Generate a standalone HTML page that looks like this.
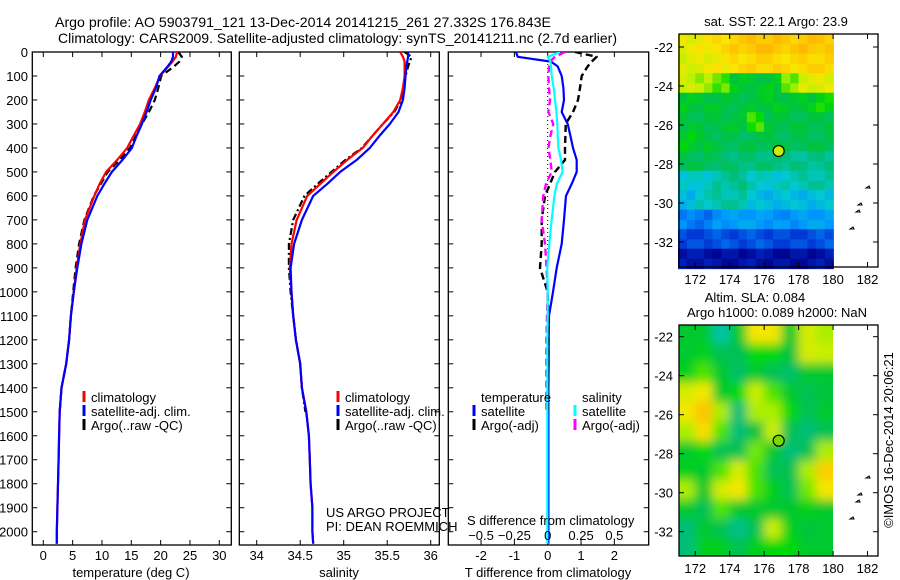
<!DOCTYPE html>
<html><head><meta charset="utf-8"><style>
html,body{margin:0;padding:0;background:#fff;}
svg{display:block;font-family:"Liberation Sans",sans-serif;}
text{fill:#000;}
</style></head><body>
<svg id="chart" width="900" height="580" viewBox="0 0 900 580" xmlns="http://www.w3.org/2000/svg">
<defs>
<clipPath id="c1"><rect x="32.3" y="52" width="199" height="493"/></clipPath>
<clipPath id="c2"><rect x="239.3" y="52" width="200" height="493"/></clipPath>
<clipPath id="c3"><rect x="448.3" y="52" width="200.4" height="493"/></clipPath>
<clipPath id="cm2"><rect x="679" y="325" width="154" height="231"/></clipPath>
<filter id="blur" x="-5%" y="-5%" width="110%" height="110%"><feGaussianBlur stdDeviation="5"/></filter>
</defs>
<text x="55" y="27" font-size="14" textLength="496" lengthAdjust="spacingAndGlyphs">Argo profile: AO 5903791_121 13-Dec-2014 20141215_261 27.332S 176.843E</text>
<text x="58" y="43" font-size="14" textLength="559" lengthAdjust="spacingAndGlyphs">Climatology: CARS2009. Satellite-adjusted climatology: synTS_20141211.nc (2.7d earlier)</text>
<g id="root"></g>
</svg>
<script>
// ---- data ----
const depths = [0,20,40,60,100,150,200,250,300,350,400,450,500,550,600,700,800,900,1000,1100,1200,1300,1400,1500,1600,1700,1800,1900,2000,2050];
const depthTicks = [0,100,200,300,400,500,600,700,800,900,1000,1100,1200,1300,1400,1500,1600,1700,1800,1900,2000];
const tempClim = [22.8,22.6,22.0,21.3,19.9,19.0,18.0,17.3,16.5,15.4,14.3,12.6,10.7,9.6,8.7,7.1,6.3,5.7,5.2,4.7,4.4,3.9,3.1,2.8,2.7,2.6,2.5,2.4,2.3,2.3];
const tempSat = [22.1,22.1,21.8,21.2,19.8,19.2,18.3,17.6,16.8,15.9,15.1,13.5,11.7,10.4,9.2,7.5,6.5,5.8,5.2,4.7,4.4,3.9,3.1,2.8,2.7,2.6,2.5,2.4,2.3,2.3];
const tempArgo = [23.0,23.6,23.2,22.3,20.1,19.6,19.0,18.0,16.8,15.8,14.8,13.0,11.0,9.8,8.6,7.0,6.1,5.5,5.1,4.7,4.4,3.9,3.1,2.8];
const salClim = [35.65,35.68,35.70,35.70,35.70,35.68,35.65,35.57,35.45,35.33,35.22,35.04,34.88,34.73,34.58,34.46,34.40,34.38,34.40,34.42,34.45,34.50,34.52,34.57,34.60,34.61,34.62,34.64,34.64,34.65];
const salSat = [35.74,35.74,35.73,35.72,35.71,35.70,35.68,35.63,35.53,35.41,35.30,35.15,34.96,34.81,34.65,34.52,34.43,34.39,34.40,34.42,34.45,34.50,34.52,34.57,34.60,34.61,34.62,34.64,34.64,34.65];
const salArgo = [35.70,35.78,35.76,35.74,35.71,35.69,35.66,35.58,35.45,35.33,35.21,35.02,34.86,34.70,34.55,34.42,34.37,34.37,34.39,34.42,34.45,34.50,34.52,34.56];
const dTsat = [-0.95,-0.9,0.1,0.3,0.42,0.47,0.49,0.42,0.6,0.68,0.76,0.87,0.87,0.72,0.55,0.49,0.42,0.27,0.16,0.04,0.03,0.03,0.02,0.02,0.02,0.02,0.02,0.02,0.02,0.02];
const dTargo = [0.82,1.47,1.32,1.2,1.02,0.97,0.91,0.76,0.54,0.53,0.52,0.52,0.22,0.07,-0.08,-0.18,-0.18,-0.23,0.0,0.02,0.01,0.0,0.0,0.0];
const dSsat = [0.092,0.0,0.02,0.025,0.03,0.045,0.055,0.065,0.072,0.076,0.08,0.1,0.112,0.068,0.05,0.03,0.012,-0.003,0,0,-0.003,-0.003,-0.003,-0.003,-0.003,-0.003,-0.003,-0.003,-0.003,-0.003];
const dSargo = [0.13,0.055,0.017,0.01,0.005,0.01,0.017,0.005,0.042,0.02,0.005,0.02,0.03,-0.013,-0.033,-0.045,-0.02,-0.008,0,-0.005,-0.01,-0.01,-0.01,-0.01];
const tempTicks = [0,5,10,15,20,25,30];
const salTicks = [34,34.5,35,35.5,36];
const salTickLabels = ["34","34.5","35","35.5","36"];
const dTTicks = [-2,-1,0,1,2];
const dSTicks = [-0.5,-0.25,0,0.25,0.5];
const dSTickLabels = ["\u22120.5","\u22120.25","0","0.25","0.5"];
const latTicks = [-22,-24,-26,-28,-30,-32];
const lonTicks = [172,174,176,178,180,182];
const argoLon = 176.843, argoLat = -27.332;
const sstGrid = [
[0.82,0.85,0.88,0.92,0.95,0.95,0.92,0.95,0.93],
[0.8,0.82,0.85,0.88,0.9,0.9,0.88,0.9,0.9],
[0.78,0.75,0.7,0.6,0.58,0.6,0.72,0.8,0.82],
[0.6,0.58,0.58,0.56,0.58,0.6,0.58,0.6,0.65],
[0.57,0.56,0.57,0.58,0.68,0.57,0.56,0.56,0.56],
[0.62,0.58,0.55,0.54,0.55,0.56,0.54,0.55,0.55],
[0.55,0.54,0.52,0.5,0.5,0.5,0.48,0.47,0.48],
[0.4,0.4,0.45,0.48,0.42,0.4,0.42,0.45,0.45],
[0.35,0.42,0.45,0.45,0.38,0.35,0.38,0.35,0.38],
[0.25,0.22,0.28,0.3,0.3,0.28,0.27,0.3,0.3],
[0.15,0.15,0.18,0.15,0.18,0.15,0.15,0.15,0.18],
[0.05,0.05,0.03,0.03,0.05,0.03,0.03,0.03,0.05]];
const slaGrid = [
[0.6,0.6,0.45,0.6,0.85,0.85,0.6,0.8,0.75],
[0.6,0.62,0.55,0.55,0.65,0.65,0.58,0.8,0.78],
[0.62,0.7,0.6,0.52,0.6,0.55,0.52,0.6,0.6],
[0.8,0.85,0.6,0.65,0.78,0.7,0.6,0.55,0.58],
[0.85,0.95,0.75,0.5,0.75,0.75,0.65,0.55,0.6],
[0.75,0.88,0.7,0.5,0.58,0.78,0.55,0.5,0.55],
[0.6,0.65,0.55,0.55,0.72,0.6,0.5,0.55,0.75],
[0.62,0.6,0.7,0.8,0.7,0.55,0.55,0.75,0.92],
[0.75,0.6,0.8,0.85,0.7,0.62,0.55,0.72,0.85],
[0.6,0.55,0.7,0.6,0.6,0.6,0.6,0.62,0.6],
[0.5,0.6,0.55,0.48,0.55,0.78,0.62,0.58,0.6],
[0.5,0.62,0.62,0.55,0.62,0.65,0.65,0.6,0.6]];

// ---- helpers ----
const NS="http://www.w3.org/2000/svg";
const root=document.getElementById('root');
function mk(tag,attrs,parent){const e=document.createElementNS(NS,tag);for(const k in attrs)e.setAttribute(k,attrs[k]);(parent||root).appendChild(e);return e;}
function txt(x,y,s,size,anchor,parent){const t=mk('text',{x:x,y:y,'font-size':size||13,'text-anchor':anchor||'start'},parent);t.textContent=s;return t;}
const Y0=52, YS=(531.7-52)/2000;
const yD=d=>Y0+d*YS;
const xT=v=>43.3+v*(176/30);
const xS=v=>256.7+(v-34)*87;
const xDT=v=>547.7+v*33.33;
const xDS=v=>547.7+v*133.33;
const xLon=l=>678+(l-171)*17.23;
const yLat1=l=>47+(-22-l)*19.5;
const yLat2=l=>336.7+(-22-l)*19.5;

function frame(x0,x1,name){const r=mk('rect',{x:x0,y:Y0,width:x1-x0,height:545-Y0,fill:'none',stroke:'#000','stroke-width':1.3});
 depthTicks.forEach(d=>{mk('line',{x1:x0,x2:x0+5,y1:yD(d),y2:yD(d),stroke:'#000'});mk('line',{x1:x1-5,x2:x1,y1:yD(d),y2:yD(d),stroke:'#000'});});}
function xticks(vals,f,labels,name){const g=mk('g',{});
 vals.forEach((v,i)=>{const x=f(v);mk('line',{x1:x,x2:x,y1:545,y2:540,stroke:'#000'},g);mk('line',{x1:x,x2:x,y1:Y0,y2:Y0+5,stroke:'#000'},g);txt(x,560,labels?labels[i]:String(v),13,'middle',g);});}
function series(vals,f,clip,color,w,dash,name){const pts=vals.map((v,i)=>f(v).toFixed(1)+','+yD(depths[i]).toFixed(1)).join(' ');
 const p=mk('polyline',{points:pts,fill:'none',stroke:color,'stroke-width':w,'clip-path':'url(#'+clip+')','stroke-linejoin':'round'});if(dash)p.setAttribute('stroke-dasharray',dash);
 return p;}
function legend(x,y,color,label,name){const g=mk('g',{});
 mk('rect',{x:x-1.5,y:y-6,width:3,height:11,fill:color},g);txt(x+7,y+5,label,13,'start',g);}

const dl=mk('g',{});
depthTicks.forEach(d=>txt(28,yD(d)+5,String(d),13,'end',dl));

// panel 1
frame(32.3,231.3,'temperature-panel');
xticks(tempTicks,xT,null,'temperature-x-axis');
txt(131,577,'temperature (deg C)',13,'middle');
series(tempArgo,xT,'c1','#000',2.2,'7,4','temp-argo-line');
series(tempClim,xT,'c1','#f00',2.2,null,'temp-climatology-line');
series(tempSat,xT,'c1','#00f',2.2,null,'temp-satellite-line');
legend(84,397,'#f00','climatology','legend-temp-climatology');
legend(84,411,'#00f','satellite-adj. clim.','legend-temp-satellite');
legend(84,425,'#000','Argo(..raw -QC)','legend-temp-argo');

// panel 2
frame(239.3,439.3,'salinity-panel');
xticks(salTicks,xS,salTickLabels,'salinity-x-axis');
txt(339,577,'salinity',13,'middle');
series(salArgo,xS,'c2','#000',2.2,'7,3,2,3','sal-argo-line');
series(salClim,xS,'c2','#f00',2.2,null,'sal-climatology-line');
series(salSat,xS,'c2','#00f',2.2,null,'sal-satellite-line');
legend(338,397,'#f00','climatology','legend-sal-climatology');
legend(338,411,'#00f','satellite-adj. clim.','legend-sal-satellite');
legend(338,425,'#000','Argo(..raw -QC)','legend-sal-argo');
txt(326,517,'US ARGO PROJECT',13);
txt(326,531,'PI: DEAN ROEMMICH',13);

// panel 3
frame(448.3,648.7,'difference-panel');
xticks(dTTicks,xDT,null,'t-difference-x-axis');
txt(548,577,'T difference from climatology',13,'middle');
const zl=mk('line',{x1:xDT(0),x2:xDT(0),y1:yD(0),y2:yD(1000),stroke:'#000','stroke-width':1,'stroke-dasharray':'1,3'});

series(dTsat,xDT,'c3','#00f',2.2,null,'dt-satellite-line');
series(dTargo,xDT,'c3','#000',2.4,'7,4','dt-argo-line');
series(dSargo,xDS,'c3','#f0f',2.4,'7,4','ds-argo-line');
series(dSsat,xDS,'c3','#0ff',2.2,null,'ds-satellite-line');
txt(481,402,'temperature',13);
legend(474,411,'#00f','satellite','legend-dt-satellite');
legend(474,425,'#000','Argo(-adj)','legend-dt-argo');
txt(582,402,'salinity',13);
legend(575,411,'#0ff','satellite','legend-ds-satellite');
legend(575,425,'#f0f','Argo(-adj)','legend-ds-argo');
txt(467,525,'S difference from climatology',13);
const sg=mk('g',{});
dSTicks.forEach((v,i)=>txt(xDS(v),540,dSTickLabels[i],13,'middle',sg));

// colormap
const stops=[[0,[0,0,140]],[0.12,[0,50,210]],[0.28,[0,150,255]],[0.4,[0,200,210]],[0.5,[0,190,120]],[0.58,[0,195,60]],[0.66,[0,220,0]],[0.76,[190,240,0]],[0.86,[250,230,0]],[1,[255,175,0]]];
function cmap(v){v=Math.max(0,Math.min(1,v));for(let i=1;i<stops.length;i++){if(v<=stops[i][0]){const a=stops[i-1],b=stops[i];const t=(v-a[0])/(b[0]-a[0]);const c=a[1].map((q,k)=>Math.round(q+(b[1][k]-q)*t));return 'rgb('+c.join(',')+')';}}return 'rgb(255,175,0)';}
function mapPanel(grid,yLat,top,bot,name,blur,dotColor){
 const g=mk('g',{});
 let cg=g; if(blur){cg=mk('g',{'clip-path':'url(#cm2)'},g);cg=mk('g',{filter:'url(#blur)'},cg);}
 grid.forEach((row,r)=>row.forEach((v,c)=>{const la0=-21.35-r, la1=la0-1;const x=xLon(171+c), y=yLat(la0);
  const ext=blur?12:0;
  const x0=x-(c==0?ext:0), y0=y-(r==0?ext:0);
  const w=xLon(172+c)-x+0.5+(c==0?ext:0)+(c==row.length-1?ext:0);
  const h=yLat(la1)-y+0.5+(r==0?ext:0)+(r==grid.length-1?ext:0);
  if(blur){
   const cell=mk('rect',{x:x0,y:y0,width:w,height:h,fill:cmap(v)},cg);
   
  } else {
   // subdivide into 2x2 sub-cells with slight texture for the noisy SST field
   const cell=mk('rect',{x:x0,y:y0,width:w,height:h,fill:cmap(v)},cg);
   
   const jit=[[0.02,-0.02],[-0.015,0.025]];
   for(let i=0;i<2;i++)for(let j=0;j<2;j++){
    const s=mk('rect',{x:x+j*(w/2),y:y+i*(h/2),width:w/2+0.3,height:h/2+0.3,fill:cmap(v+jit[i][(j+r+c)%2])},cg);
    
   }
  }}));
 const fr=mk('rect',{x:679,y:top,width:199,height:bot-top,fill:'none',stroke:'#000','stroke-width':1.3});
 latTicks.forEach(l=>{const y=yLat(l);mk('line',{x1:679,x2:684,y1:y,y2:y,stroke:'#000'});mk('line',{x1:873,x2:878,y1:y,y2:y,stroke:'#000'});txt(673,y+5,'-'+String(-l),13,'end');});
 lonTicks.forEach(l=>{const x=xLon(l);mk('line',{x1:x,x2:x,y1:bot,y2:bot-5,stroke:'#000'});mk('line',{x1:x,x2:x,y1:top,y2:top+5,stroke:'#000'});txt(x,bot+17,String(l),13,'middle');});
 [[868,188],[860,205],[858,212],[852,229]].forEach(p=>{const isl=mk('path',{d:'M'+(p[0]-2)+','+(yLat===yLat1?p[1]:p[1]+290)+' l3,-2 l1,2 z',fill:'none',stroke:'#000','stroke-width':1});});
 const d=mk('circle',{cx:xLon(argoLon),cy:yLat(argoLat),r:5.5,fill:dotColor,stroke:'#000','stroke-width':1.2});
}
mapPanel(sstGrid,yLat1,34,267,'sst-map',false,'rgb(200,240,0)');
mapPanel(slaGrid,yLat2,325,556,'sla-map',true,'rgb(120,220,0)');
txt(776,26,'sat. SST: 22.1 Argo: 23.9',13,'middle');
txt(755,302,'Altim. SLA: 0.084',13,'middle');
txt(777,317,'Argo h1000: 0.089 h2000: NaN',13,'middle');
const cr=txt(0,0,'\u00A9IMOS 16-Dec-2014 20:06:21',13,'middle');cr.setAttribute('transform','translate(893,440) rotate(-90)');
</script>
</body></html>
